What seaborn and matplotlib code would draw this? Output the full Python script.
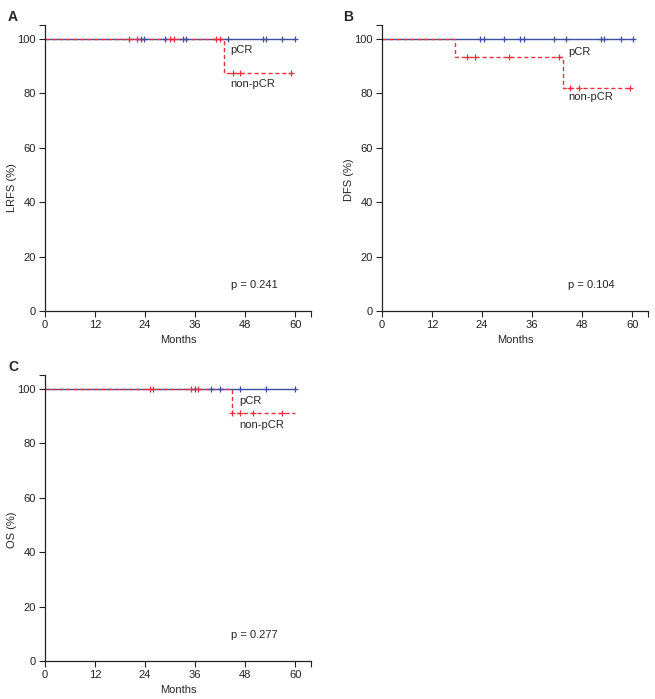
import numpy as np
import pandas as pd
import matplotlib
matplotlib.use("Agg")
import matplotlib.pyplot as plt
import seaborn as sns

sns.set_style("ticks")
plt.rcParams["font.family"] = ["Liberation Sans", "DejaVu Sans"]
plt.rcParams["font.size"] = 8

BLUE = "#3d4fa0"
RED = "#e8323f"
FS = 8

# step curves (time in months, survival %)
lrfs_pcr_t = [0, 60]
lrfs_pcr_s = [100, 100]
lrfs_non_t = [0, 42.9, 59.2]
lrfs_non_s = [100, 87.5, 87.5]
lrfs_pcr_cens = [23.1, 23.8, 28.9, 33.1, 33.9, 43.9, 52.2, 52.9, 56.9, 59.9]
lrfs_non_cens = [20.1, 22.0, 29.9, 30.9, 40.9, 41.9, 45.0, 46.7, 59.0]

dfs_pcr_t = [0, 60.3]
dfs_pcr_s = [100, 100]
dfs_non_t = [0, 17.4, 43.3, 59.6]
dfs_non_s = [100, 93.3, 81.7, 81.7]
dfs_pcr_cens = [23.6, 24.4, 29.3, 33.2, 34.0, 41.3, 44.2, 52.5, 53.3, 57.3, 60.3]
dfs_non_cens = [20.4, 22.4, 30.4, 42.4, 45.2, 47.2, 59.4]

os_pcr_t = [0, 60]
os_pcr_s = [100, 100]
os_non_t = [0, 44.8, 60]
os_non_s = [100, 90.9, 90.9]
os_pcr_cens = [35.9, 39.9, 41.9, 46.8, 52.9, 60.0]
os_non_cens = [25.3, 25.9, 34.9, 36.8, 44.8, 46.7, 49.8, 56.9]

p_values = ["p = 0.241", "p = 0.104", "p = 0.277"]
y_labels = ["LRFS (%)", "DFS (%)", "OS (%)"]
panel_letters = ["A", "B", "C"]


def step_value(t, times, surv):
    idx = np.searchsorted(times, t, side="right") - 1
    return np.array(surv)[idx]


def km_panel(ax, pcr_t, pcr_s, non_t, non_s, pcr_c, non_c, ylab, ptxt, lbl, ylab_y):
    pcr = pd.DataFrame({"t": pcr_t, "s": pcr_s})
    non = pd.DataFrame({"t": non_t, "s": non_s})
    sns.lineplot(data=pcr, x="t", y="s", ax=ax, color=BLUE, lw=1.0,
                 drawstyle="steps-post", estimator=None, sort=False)
    sns.lineplot(data=non, x="t", y="s", ax=ax, color=RED, lw=1.0,
                 linestyle=(0, (3, 2)), drawstyle="steps-post",
                 estimator=None, sort=False)
    pc = pd.DataFrame({"t": pcr_c, "s": step_value(pcr_c, pcr_t, pcr_s)})
    nc = pd.DataFrame({"t": non_c, "s": step_value(non_c, non_t, non_s)})
    sns.scatterplot(data=pc, x="t", y="s", ax=ax, marker="+", s=24,
                    color=BLUE, linewidth=0.9, zorder=4)
    sns.scatterplot(data=nc, x="t", y="s", ax=ax, marker="+", s=24,
                    color=RED, linewidth=0.9, zorder=5)

    ax.set_xlim(0, 63.8)
    ax.set_ylim(0, 105)
    ax.set_xticks([0, 12, 24, 36, 48, 60])
    ax.set_yticks([0, 20, 40, 60, 80, 100])
    ax.set_xticks([63.8], minor=True)
    ax.set_yticks([105], minor=True)
    ax.tick_params(which="both", direction="out", length=4, width=0.8,
                   labelsize=FS, colors="#222222", pad=2.5)
    for sp in ["left", "bottom"]:
        ax.spines[sp].set_linewidth(0.9)
        ax.spines[sp].set_color("#222222")
    sns.despine(ax=ax)
    ax.set_xlabel("Months", fontsize=FS)
    ax.set_ylabel(ylab, fontsize=FS)
    ax.xaxis.set_label_coords(0.5, -29 / 286, transform=ax.transAxes)
    ax.xaxis.label.set_va("center")
    ax.yaxis.set_label_coords(-33 / 266, ylab_y, transform=ax.transAxes)
    ax.yaxis.label.set_va("center")
    ax.text(44.5, 9.6, ptxt, fontsize=FS, va="center", ha="left")
    ax.text(lbl[0], lbl[1], "pCR", fontsize=FS, va="center", ha="left")
    ax.text(lbl[0], lbl[2], "non-pCR", fontsize=FS, va="center", ha="left")


fig = plt.figure(figsize=(6.55, 6.99), dpi=100)
W, H = 655, 699
axA = fig.add_axes([45 / W, 1 - 311 / H, 266 / W, 286 / H])
axB = fig.add_axes([382 / W, 1 - 311 / H, 266 / W, 286 / H])
axC = fig.add_axes([45 / W, 1 - 661 / H, 266 / W, 286 / H])

km_panel(axA, lrfs_pcr_t, lrfs_pcr_s, lrfs_non_t, lrfs_non_s,
         lrfs_pcr_cens, lrfs_non_cens, y_labels[0], p_values[0],
         (44.5, 95.8, 83.3), 0.43)
km_panel(axB, dfs_pcr_t, dfs_pcr_s, dfs_non_t, dfs_non_s,
         dfs_pcr_cens, dfs_non_cens, y_labels[1], p_values[1],
         (44.7, 95.2, 78.5), 0.458)
km_panel(axC, os_pcr_t, os_pcr_s, os_non_t, os_non_s,
         os_pcr_cens, os_non_cens, y_labels[2], p_values[2],
         (46.5, 95.6, 86.8), 0.458)

fig.text(8 / W, 1 - 17 / H, panel_letters[0], fontsize=10, fontweight="bold", va="center")
fig.text(343 / W, 1 - 17 / H, panel_letters[1], fontsize=10, fontweight="bold", va="center")
fig.text(8 / W, 1 - 367 / H, panel_letters[2], fontsize=10, fontweight="bold", va="center")

fig.savefig("out.png", dpi=100)
